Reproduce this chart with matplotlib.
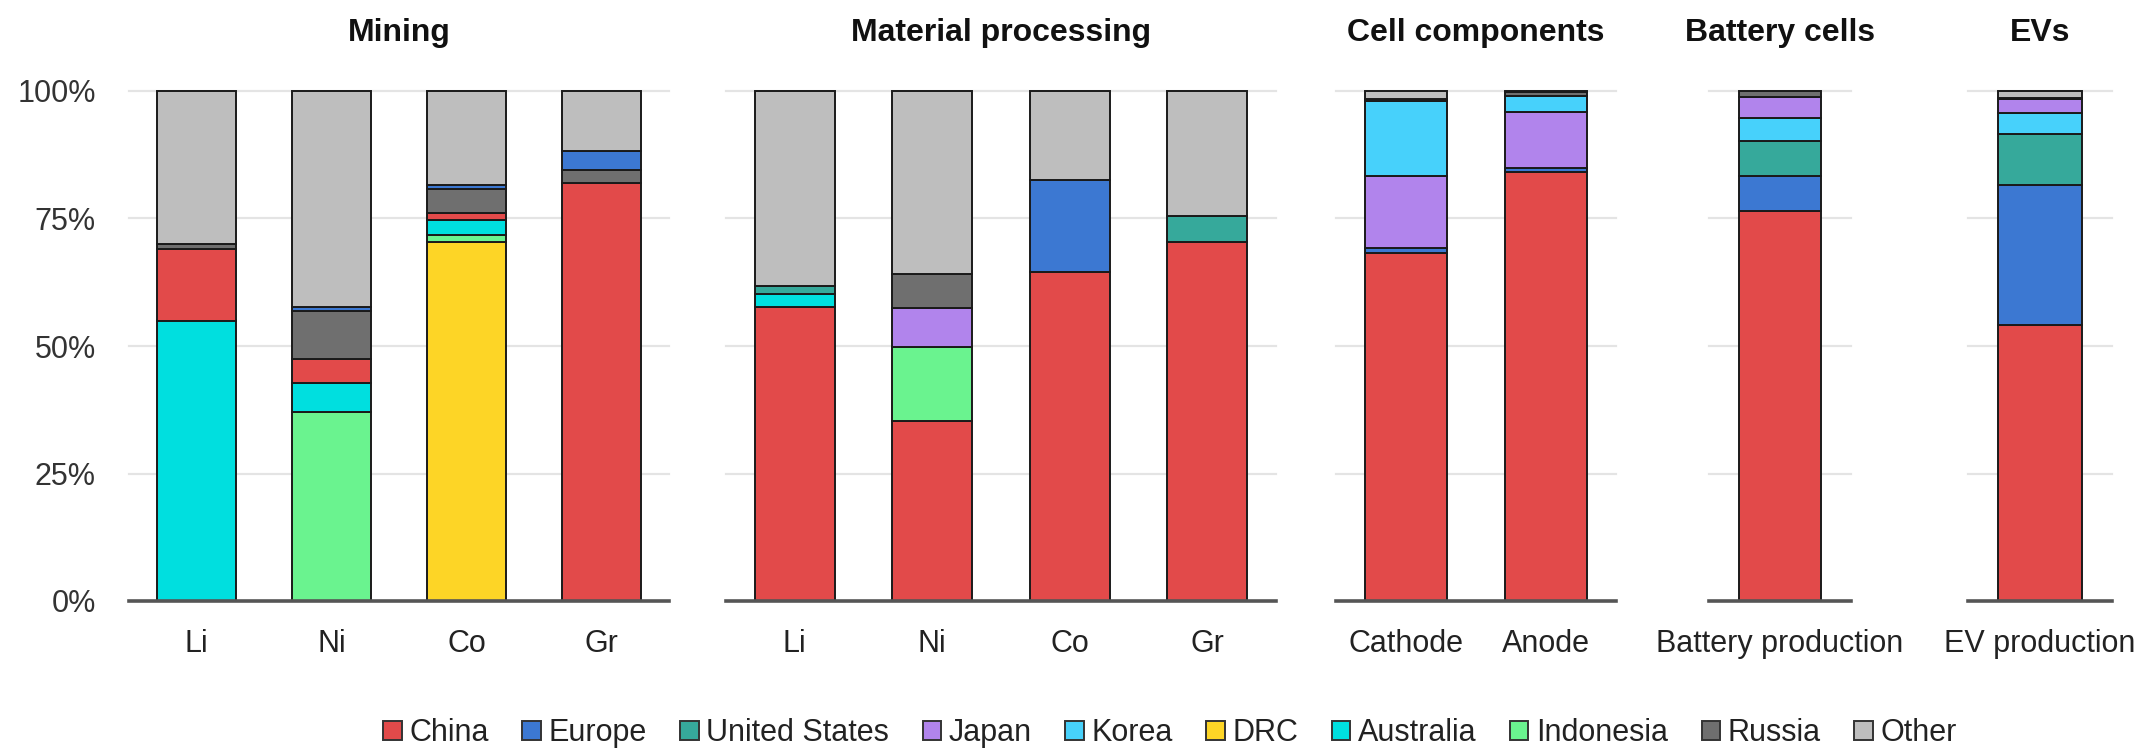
import numpy as np
import matplotlib
matplotlib.use("Agg")
import matplotlib.pyplot as plt
from matplotlib.patches import Patch

plt.rcParams['font.family'] = ['Liberation Sans', 'DejaVu Sans']

# bars, left to right
bar_labels = ["Li", "Ni", "Co", "Gr", "Li", "Ni", "Co", "Gr",
              "Cathode", "Anode", "Battery production", "EV production"]

# shares (%) per country for each bar
china     = [14.0, 4.6, 1.2, 81.9, 57.6, 35.2, 64.5, 70.3, 68.3, 84.1, 76.4, 54.2]
europe    = [0.0, 0.8, 0.8, 3.6, 0.0, 0.0, 18.0, 0.0, 1.0, 0.9, 6.9, 27.3]
usa       = [0.0, 0.0, 0.0, 0.0, 1.6, 0.0, 0.0, 5.1, 0.0, 0.0, 6.9, 10.1]
japan     = [0.0, 0.0, 0.0, 0.0, 0.0, 7.7, 0.0, 0.0, 14.0, 10.8, 4.1, 2.7]
korea     = [0.0, 0.0, 0.0, 0.0, 0.0, 0.0, 0.0, 0.0, 14.7, 3.2, 4.5, 4.1]
drc       = [0.0, 0.0, 70.3, 0.0, 0.0, 0.0, 0.0, 0.0, 0.0, 0.0, 0.0, 0.0]
australia = [55.0, 5.8, 3.1, 0.0, 2.6, 0.0, 0.0, 0.0, 0.0, 0.0, 0.0, 0.0]
indonesia = [0.0, 37.0, 1.4, 0.0, 0.0, 14.6, 0.0, 0.0, 0.0, 0.0, 0.0, 0.0]
russia    = [1.0, 9.4, 4.7, 2.7, 0.0, 6.6, 0.0, 0.0, 0.4, 0.8, 1.2, 0.3]
other     = [30.0, 42.4, 18.5, 11.8, 38.2, 35.9, 17.5, 24.6, 1.6, 0.2, 0.0, 1.3]

countries = ["China", "Europe", "United States", "Japan", "Korea",
             "DRC", "Australia", "Indonesia", "Russia", "Other"]
shares = dict(zip(countries, [china, europe, usa, japan, korea,
                              drc, australia, indonesia, russia, other]))
colors = {"China": "#e24a4a", "Europe": "#3c78d2", "United States": "#36a99b",
          "Japan": "#b184ec", "Korea": "#47d1fb", "DRC": "#fdd526",
          "Australia": "#00dfdf", "Indonesia": "#6af38f", "Russia": "#6f6f6f",
          "Other": "#bebebe"}

mining_order = ["DRC", "Indonesia", "Australia", "China", "Russia", "Europe",
                "United States", "Japan", "Korea", "Other"]
proc_order = ["China", "Indonesia", "Australia", "United States", "Europe",
              "Japan", "Russia", "Korea", "DRC", "Other"]
cell_order = ["China", "Europe", "United States", "Japan", "Korea", "Russia", "Other"]
end_order = ["China", "Europe", "United States", "Korea", "Japan", "Russia", "Other"]

# title, bar indices, pixel extent of axes, stacking order
panels = [("Mining", [0, 1, 2, 3], (129, 669), mining_order),
          ("Material processing", [4, 5, 6, 7], (726, 1276), proc_order),
          ("Cell components", [8, 9], (1336, 1616), cell_order),
          ("Battery cells", [10], (1709, 1851), end_order),
          ("EVs", [11], (1968, 2112), end_order)]

W, H = 2147, 751
fig = plt.figure(figsize=(W / 100, H / 100), dpi=100)
top_px, bot_px = 91, 601

for p, (title, idx, (x0, x1), order) in enumerate(panels):
    ax = fig.add_axes([x0 / W, 1 - bot_px / H, (x1 - x0) / W, (bot_px - top_px) / H])
    for y in [25, 50, 75, 100]:
        ax.axhline(y, color="#e4e4e4", lw=1.6, zorder=0, clip_on=False)
    for k, i in enumerate(idx):
        bottom = 0
        for c in order:
            v = shares[c][i]
            if v <= 0:
                continue
            ax.bar(k, v, bottom=bottom, width=0.58, color=colors[c],
                   edgecolor="#1a1a1a", linewidth=1.4, zorder=2, clip_on=False)
            bottom += v
    ax.axhline(0, color="#555555", lw=2.6, zorder=3, clip_on=False)
    ax.set_xlim(-0.5, len(idx) - 0.5)
    ax.set_ylim(0, 100)
    ax.set_xticks(range(len(idx)))
    ax.set_xticklabels([bar_labels[i] for i in idx], fontsize=22, color="#222222")
    ax.set_yticks([0, 25, 50, 75, 100])
    if p == 0:
        ax.set_yticklabels(["0%", "25%", "50%", "75%", "100%"], fontsize=22, color="#333333")
    else:
        ax.set_yticklabels([])
    ax.tick_params(axis="both", length=0)
    ax.tick_params(axis="x", pad=20)
    ax.tick_params(axis="y", pad=24)
    for s in ax.spines.values():
        s.set_visible(False)
    ax.set_title(title, fontsize=23, fontweight="bold", pad=36, color="#111111")

handles = [Patch(facecolor=colors[c], edgecolor="#333333", linewidth=1.4, label=c)
           for c in countries]
fig.legend(handles=handles, loc="center", bbox_to_anchor=(1170 / W, 0.024),
           ncol=10, frameon=False, fontsize=22, handlelength=0.6, handleheight=0.6,
           handletextpad=0.25, columnspacing=1.1, borderpad=0, labelcolor="#222222")

fig.savefig("out.png", dpi=100)
